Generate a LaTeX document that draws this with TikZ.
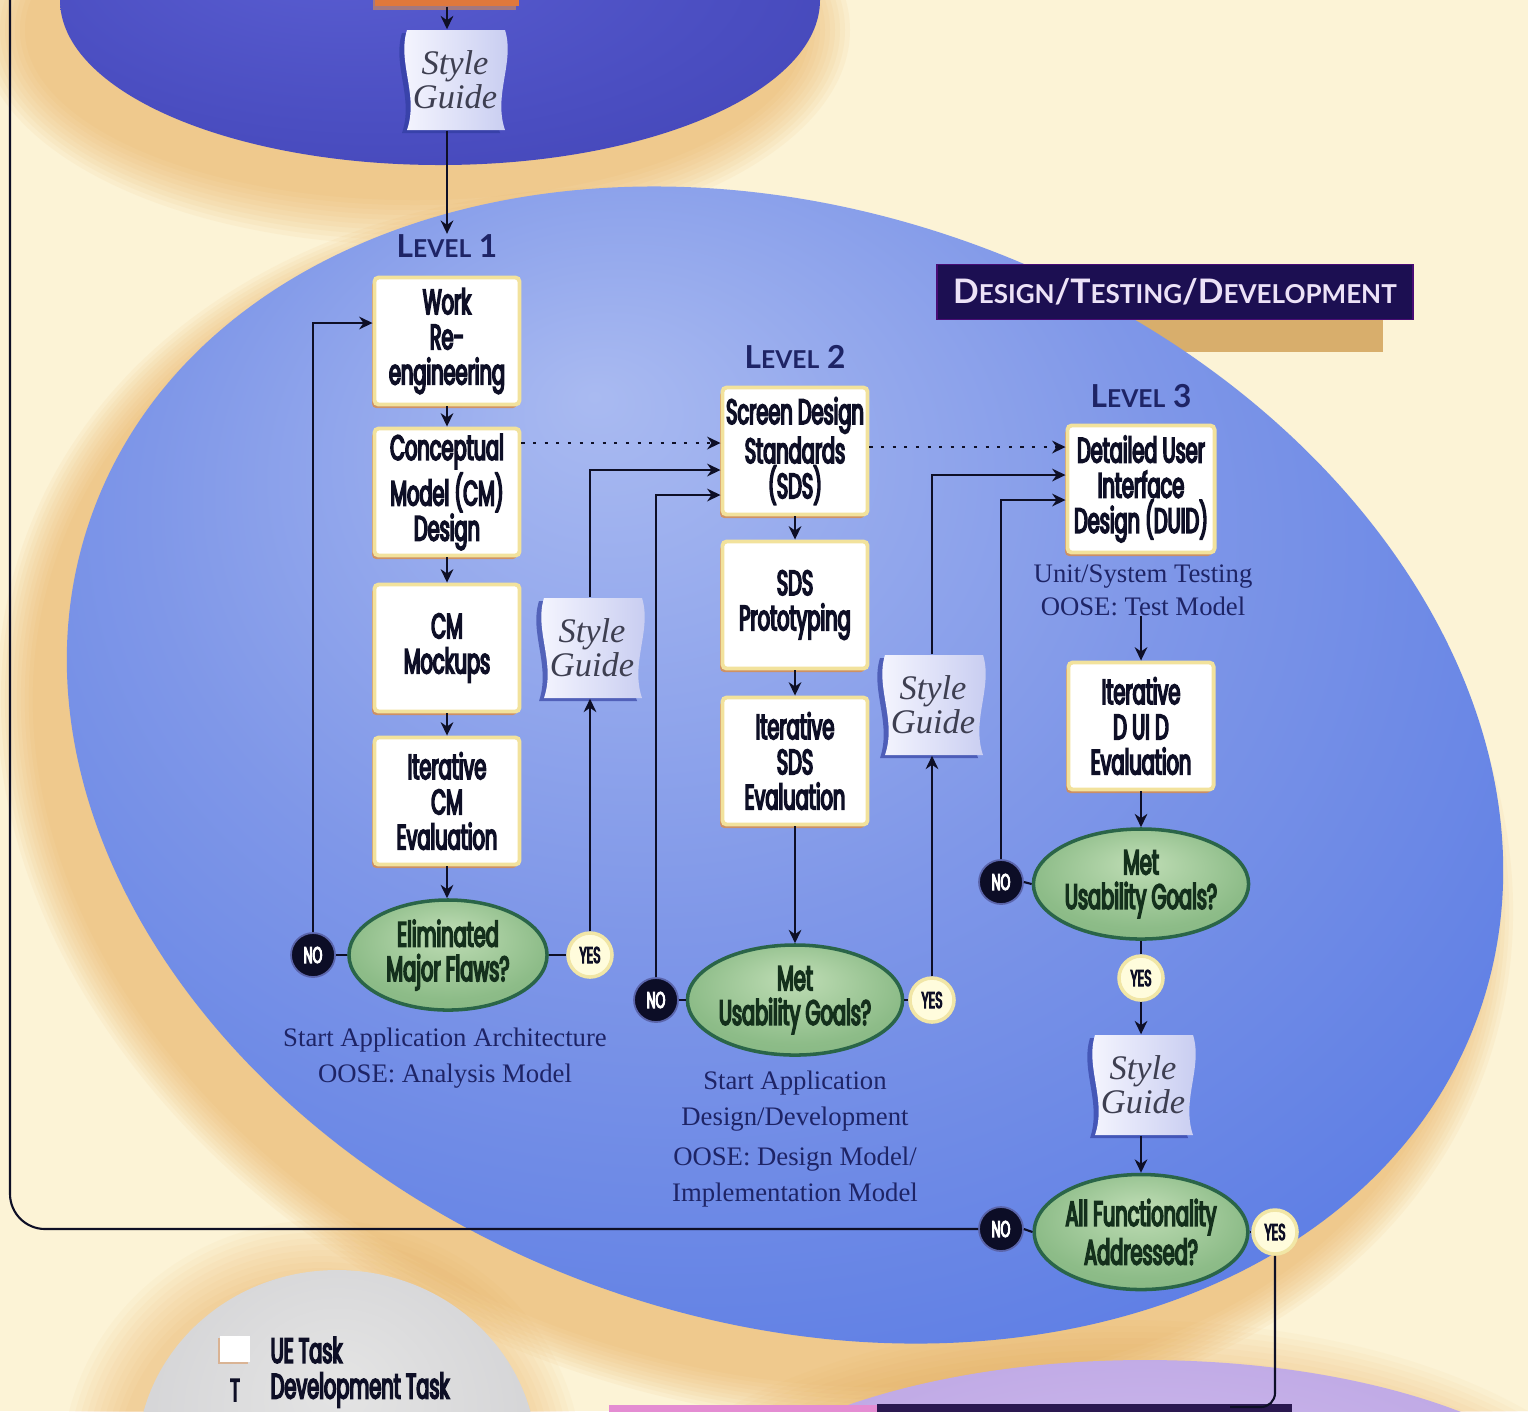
\documentclass[tikz,border=0pt]{standalone}
\usepackage{fontspec}
\setmainfont{Liberation Serif}
\newfontfamily\boxfont{Poppins}[FakeStretch=0.55, AutoFakeBold=4.5]
\newfontfamily\capfont{Lato}
\usetikzlibrary{arrows.meta,calc,shadows,shapes.geometric}

\definecolor{cream}{HTML}{FCF3D6}
\definecolor{glow}{HTML}{E8A850}
\definecolor{topA}{HTML}{5A5ED2}
\definecolor{topB}{HTML}{4A4DC0}
\definecolor{topC}{HTML}{3C3DAC}
\definecolor{midA}{HTML}{A9BAF1}
\definecolor{midB}{HTML}{7F97E8}
\definecolor{midC}{HTML}{5B7CE4}
\definecolor{midD}{HTML}{426CE8}
\definecolor{ink}{HTML}{0E0F26}
\definecolor{navy}{HTML}{1E2466}
\definecolor{boxedge}{HTML}{F2E29C}
\definecolor{boxshade}{HTML}{D98E4E}
\definecolor{decA}{HTML}{BFDDB5}
\definecolor{decB}{HTML}{8DBC88}
\definecolor{decC}{HTML}{79AD79}
\definecolor{decEdge}{HTML}{2A6548}
\definecolor{decText}{HTML}{14301C}
\definecolor{yesfill}{HTML}{FFFCDC}
\definecolor{yesedge}{HTML}{F1E6A6}
\definecolor{nofill}{HTML}{0C0D26}
\definecolor{nohalo}{HTML}{5A64AA}
\definecolor{sgA}{HTML}{F7F7FF}
\definecolor{sgB}{HTML}{C6CBF0}
\definecolor{sgEdge}{HTML}{2F3C9E}
\definecolor{bannerbg}{HTML}{1C0F52}
\definecolor{bannertext}{HTML}{ECE2F7}
\definecolor{tanshadow}{HTML}{D8AE6C}
\definecolor{grayA}{HTML}{E4E4E4}
\definecolor{grayB}{HTML}{C6C6CA}
\definecolor{lilacA}{HTML}{CDB9EC}
\definecolor{lilacB}{HTML}{AE95DD}
\definecolor{pinkstrip}{HTML}{E48CD2}
\definecolor{darkstrip}{HTML}{2A1850}
\definecolor{devorange}{HTML}{E0783C}

\pgfdeclareradialshading{midshade}{\pgfpoint{-6bp}{14bp}}{color(0bp)=(midA); color(16bp)=(midB); color(32bp)=(midC); color(50bp)=(midD)}
\pgfdeclareradialshading{topshade}{\pgfpoint{-8bp}{8bp}}{color(0bp)=(topA); color(25bp)=(topB); color(50bp)=(topC)}
\pgfdeclareradialshading{decshade}{\pgfpoint{0bp}{10bp}}{color(0bp)=(decA); color(25bp)=(decB); color(50bp)=(decC)}
\pgfdeclareradialshading{grayshade}{\pgfpoint{0bp}{10bp}}{color(0bp)=(grayA); color(50bp)=(grayB)}
\pgfdeclareradialshading{lilacshade}{\pgfpoint{0bp}{10bp}}{color(0bp)=(lilacA); color(50bp)=(lilacB)}

\tikzset{
  flow/.style={draw=ink, line width=0.6pt},
  arr/.style={flow, -{Stealth[length=3.8pt,width=3.6pt]}},
  dotarr/.style={draw=ink, line width=0.8pt, dash pattern=on 0.9pt off 2.4pt, -{Stealth[length=3.8pt,width=3.6pt]}},
  uetask/.style={rectangle, rounded corners=1.2pt, fill=white, draw=boxedge, line width=1.1pt,
    minimum width=1.45cm, minimum height=1.27cm, inner sep=1pt, align=center,
    font=\boxfont\bfseries\fontsize{10}{10}\selectfont, text=ink,
    drop shadow={shadow xshift=-0.7pt, shadow yshift=-1pt, fill=boxshade, opacity=0.85}},
  devbox/.style={rectangle, fill=devorange, minimum width=1.43cm, minimum height=0.3cm,
    drop shadow={shadow xshift=-0.7pt, shadow yshift=-1pt, fill=boxshade, opacity=0.6}},
  decision/.style={ellipse, shade, shading=decshade, draw=decEdge, line width=1pt,
    minimum width=1.98cm, minimum height=1.1cm, inner sep=0pt, align=center,
    font=\boxfont\bfseries\fontsize{10}{9.8}\selectfont, text=decText},
  nobub/.style={circle, fill=nofill, draw=nohalo, line width=0.5pt, minimum size=0.44cm, inner sep=0pt,
    font=\boxfont\bfseries\fontsize{6.5}{6.5}\selectfont, text=white},
  yesbub/.style={circle, fill=yesfill, draw=yesedge, line width=1pt, minimum size=0.44cm, inner sep=0pt,
    font=\boxfont\bfseries\fontsize{6.5}{6.5}\selectfont, text=ink},
  note/.style={font=\fontsize{7.6}{10}\selectfont, text=navy, align=center, inner sep=0pt},
  lvl/.style={font=\capfont\bfseries\fontsize{9}{9}\selectfont, text=navy, inner sep=0pt},
  sgtext/.style={font=\itshape\fontsize{9.8}{9.7}\selectfont, text=ink!80, align=center,
    minimum width=1.0cm, minimum height=1.0cm, inner sep=0pt},
  legendtext/.style={font=\boxfont\bfseries\fontsize{10}{10}\selectfont, text=ink, inner sep=0pt, anchor=west}
}

% wavy "Style Guide" sheet: #1 node name, #2/#3 centre
\newcommand{\guideflag}[3]{%
  \begin{scope}[shift={(#2,#3)}]
    \fill[sgEdge, opacity=0.65, shift={(-5,3)}] (-48,-50) -- (50,-50) .. controls (60,-18) and (38,15) .. (50,50)
      -- (-48,50) .. controls (-36,15) and (-58,-18) .. (-48,-50) -- cycle;
    \shade[left color=sgA, right color=sgB] (-48,-50) -- (50,-50) .. controls (60,-18) and (38,15) .. (50,50)
      -- (-48,50) .. controls (-36,15) and (-58,-18) .. (-48,-50) -- cycle;
  \end{scope}
  \node[sgtext] (#1) at (#2,#3) {Style\\Guide};
}

\begin{document}
\begin{tikzpicture}[x=0.01cm,y=-0.01cm]
\useasboundingbox (0,0) rectangle (1528,1411);
\clip (0,0) rectangle (1528,1411);
\fill[cream] (0,0) rectangle (1528,1411);

% warm shadows round the phase ellipses
\foreach \k in {1,...,10}{
  \fill[glow, opacity=0.07] (415,30) ellipse [x radius={385+5*\k}, y radius={165+5*\k}];
  \fill[glow, opacity=0.07, rotate around={-20:(755,805)}] (755,805) ellipse [x radius={737+4*\k}, y radius={554+4*\k}];
  \fill[glow, opacity=0.05] (322,1470) ellipse [x radius={200+6*\k}, y radius={190+6*\k}];
  \fill[glow, opacity=0.05] (1125,1580) ellipse [x radius={470+6*\k}, y radius={200+6*\k}];
}

% banner shadow (partly hidden by the ellipse)
\fill[tanshadow] (907,300) rectangle (1383,352);

% phase ellipses
\shade[shading=topshade] (440,0) ellipse [x radius=380, y radius=165];
\shade[shading=midshade, rotate around={-20:(785,765)}] (785,765) ellipse [x radius=737, y radius=554];
\shade[shading=grayshade] (337,1460) ellipse [x radius=200, y radius=190];
\shade[shading=lilacshade] (1145,1560) ellipse [x radius=470, y radius=200];

% next phase banner at the bottom edge
\fill[pinkstrip] (609,1405) rectangle (877,1420);
\fill[darkstrip] (877,1404) rectangle (1292,1420);

% phase banner
\node[rectangle, fill=bannerbg, draw=bannerbg!80!magenta, line width=0.4pt,
      minimum width=4.76cm, minimum height=0.55cm, inner sep=0pt,
      font=\capfont\bfseries\fontsize{9.6}{9.6}\selectfont, text=bannertext] (banner) at (1175,292)
  {D{\fontsize{7.4}{7.4}\selectfont ESIGN}/T{\fontsize{7.4}{7.4}\selectfont ESTING}/D{\fontsize{7.4}{7.4}\selectfont EVELOPMENT}};

% ---------- nodes ----------
\node[devbox] (devtop) at (447,-9) {};
\guideflag{sg0}{455}{80}

\node[lvl] (lvl1) at (447,246) {L{\fontsize{7}{7}\selectfont EVEL} 1};
\node[lvl] (lvl2) at (795,357) {L{\fontsize{7}{7}\selectfont EVEL} 2};
\node[lvl] (lvl3) at (1141,396) {L{\fontsize{7}{7}\selectfont EVEL} 3};

% level 1
\node[uetask] (wr) at (447,341) {Work\\Re-\\engineering};
\node[uetask] (cm) at (447,492) {Conceptual\\Model (CM)\\Design};
\node[uetask] (mk) at (447,648) {CM\\Mockups};
\node[uetask] (ie) at (447,801) {Iterative\\CM\\Evaluation};
\node[decision] (d1) at (448,955) {Eliminated\\Major Flaws?};
\node[nobub] (no1) at (313,955) {NO};
\node[yesbub] (yes1) at (590,955) {YES};
\node[note] (n1) at (445,1058) {Start Application Architecture\\OOSE: Analysis Model};
\guideflag{sg1}{592}{648}

% level 2
\node[uetask] (sds) at (795,451) {Screen Design\\Standards\\(SDS)};
\node[uetask] (pr) at (795,605) {SDS\\Prototyping};
\node[uetask] (ise) at (795,761) {Iterative\\SDS\\Evaluation};
\node[decision] (d2) at (795,1000) {Met\\Usability Goals?};
\node[nobub] (no2) at (656,1000) {NO};
\node[yesbub] (yes2) at (932,1000) {YES};
\node[note] (n2) at (795,1101) {Start Application\\Design/Development};
\node[note] (n3) at (795,1177) {OOSE: Design Model/\\Implementation Model};
\guideflag{sg2}{933}{705}

% level 3
\node[uetask, minimum width=1.47cm] (duid) at (1141,489) {Detailed User\\Interface\\Design (DUID)};
\node[note, font=\fontsize{7.6}{9.4}\selectfont] (tests) at (1143,590) {Unit/System Testing\\OOSE: Test Model};
\node[uetask] (idd) at (1141,726) {Iterative\\D UI D\\Evaluation};
\node[decision] (d3) at (1141,884) {Met\\Usability Goals?};
\node[nobub] (no3) at (1001,882) {NO};
\node[yesbub] (yes3) at (1141,978) {YES};
\guideflag{sg4}{1143}{1085}
\node[decision, minimum width=2.0cm, minimum height=1.15cm] (d4) at (1141,1232) {All Functionality\\Addressed?};
\node[nobub] (no4) at (1001,1229) {NO};
\node[yesbub] (yes4) at (1275,1232) {YES};

% legend
\node[rectangle, fill=white, minimum width=0.3cm, minimum height=0.26cm, inner sep=0pt,
      drop shadow={shadow xshift=-0.5pt, shadow yshift=-0.6pt, fill=boxshade, opacity=0.5}] (keyue) at (235,1349) {};
\node[legendtext] (keyuetext) at (270,1350) {UE Task};
\node[legendtext, font=\boxfont\bfseries\fontsize{9}{9}\selectfont, anchor=center] (keydev) at (235,1390) {T};
\node[legendtext] (keydevtext) at (270,1390) {Development Task};

% free ends of the connectors leaving the picture
\coordinate (loopTop) at (10,-10);
\coordinate (nextPhase) at (1230,1407);

% ---------- connectors ----------
\draw[arr] (devtop.south) -- (devtop.south |- sg0.north);
\draw[arr] (lvl1.north |- sg0.south) -- (lvl1.north);

\draw[arr] (wr.south) -- (cm.north);
\draw[arr] (cm.south) -- (mk.north);
\draw[arr] (mk.south) -- (ie.north);
\draw[arr] (ie.south) -- (ie.south |- d1.north);
\draw[flow] (d1.west) -- (no1.east);
\draw[flow] (d1.east) -- (yes1.west);
\draw[arr] (no1.north) |- ($(wr.west)+(0,-18)$);
\draw[arr] (yes1.north) -- (yes1.north |- sg1.south);
\draw[arr] (yes1.north |- sg1.north) |- ($(sds.west)+(0,19)$);
\draw[dotarr] ($(cm.east)+(0,-49)$) -- ($(sds.west)+(0,-8)$);

\draw[arr] (sds.south) -- (pr.north);
\draw[arr] (pr.south) -- (ise.north);
\draw[arr] (ise.south) -- (d2.north);
\draw[flow] (d2.west) -- (no2.east);
\draw[flow] (d2.east) -- (yes2.west);
\draw[arr] (no2.north) |- ($(sds.west)+(0,44)$);
\draw[arr] (yes2.north) -- (yes2.north |- sg2.south);
\draw[arr] (yes2.north |- sg2.north) |- ($(duid.west)+(0,-14)$);
\draw[dotarr] ($(sds.east)+(0,-4)$) -- ($(duid.west)+(0,-42)$);

\draw[arr] (idd.north |- tests.south) -- (idd.north);
\draw[arr] (idd.south) -- (d3.north);
\draw[flow] (d3.west) -- (no3.east);
\draw[arr] (no3.north) |- ($(duid.west)+(0,11)$);
\draw[flow] (d3.south) -- (yes3.north);
\draw[arr] (yes3.south) -- (yes3.south |- sg4.north);
\draw[arr] (d4.north |- sg4.south) -- (d4.north);
\draw[flow] (d4.west) -- (no4.east);
\draw[flow] (d4.east) -- (yes4.west);
\draw[flow, rounded corners=10pt] (no4.west) -| (loopTop);
\draw[flow, rounded corners=4pt] (yes4.south) |- (nextPhase);
\end{tikzpicture}
\end{document}
